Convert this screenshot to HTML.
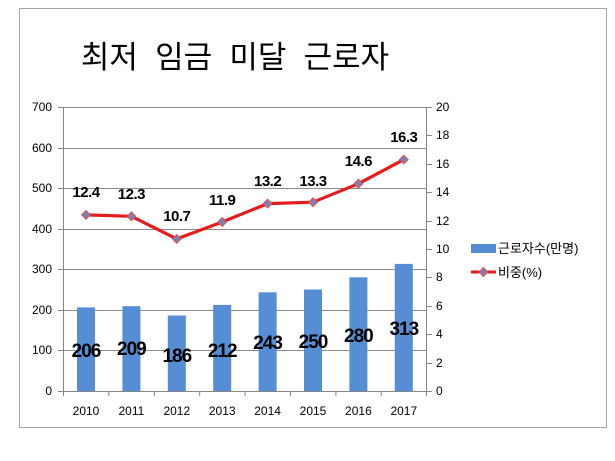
<!DOCTYPE html>
<html><head><meta charset="utf-8"><style>
html,body{margin:0;padding:0;background:#fff;}
svg text{font-family:"Liberation Sans","Noto Sans CJK KR",sans-serif;}
</style></head><body>
<svg width="615" height="456" viewBox="0 0 615 456" xmlns="http://www.w3.org/2000/svg">
<rect x="0" y="0" width="615" height="456" fill="#fff"/>
<rect x="19.5" y="8.5" width="587" height="419" fill="#fff" stroke="#a6a6a6" stroke-width="1"/>
<text x="235" y="68" font-size="31" text-anchor="middle" fill="#000" font-family="Noto Sans CJK KR,sans-serif" style="white-space:pre" xml:space="preserve">최저  임금  미달  근로자</text>
<g stroke="#8c8c8c" stroke-width="1">
<line x1="63.5" y1="107.5" x2="426.5" y2="107.5"/>
<line x1="63.5" y1="148.5" x2="426.5" y2="148.5"/>
<line x1="63.5" y1="188.5" x2="426.5" y2="188.5"/>
<line x1="63.5" y1="229.5" x2="426.5" y2="229.5"/>
<line x1="63.5" y1="269.5" x2="426.5" y2="269.5"/>
<line x1="63.5" y1="310.5" x2="426.5" y2="310.5"/>
<line x1="63.5" y1="350.5" x2="426.5" y2="350.5"/>
</g>
<g fill="#558ed5">
<rect x="77" y="307.4" width="18" height="83.6"/>
<rect x="122.4" y="306.2" width="18" height="84.8"/>
<rect x="167.8" y="315.5" width="18" height="75.5"/>
<rect x="213.2" y="304.9" width="18" height="86.1"/>
<rect x="258.6" y="292.3" width="18" height="98.7"/>
<rect x="304" y="289.5" width="18" height="101.5"/>
<rect x="349.4" y="277.3" width="18" height="113.7"/>
<rect x="394.8" y="263.9" width="18" height="127.1"/>
</g>
<g stroke="#868686" stroke-width="1">
<line x1="63.5" y1="107" x2="63.5" y2="391"/>
<line x1="426.5" y1="107" x2="426.5" y2="391"/>
<line x1="63" y1="391.5" x2="427" y2="391.5"/>
<line x1="58" y1="107.5" x2="63" y2="107.5"/><line x1="58" y1="148.5" x2="63" y2="148.5"/><line x1="58" y1="188.5" x2="63" y2="188.5"/><line x1="58" y1="229.5" x2="63" y2="229.5"/><line x1="58" y1="269.5" x2="63" y2="269.5"/><line x1="58" y1="310.5" x2="63" y2="310.5"/><line x1="58" y1="350.5" x2="63" y2="350.5"/><line x1="58" y1="391.5" x2="63" y2="391.5"/>
<line x1="427" y1="107.5" x2="432" y2="107.5"/><line x1="427" y1="135.5" x2="432" y2="135.5"/><line x1="427" y1="164.5" x2="432" y2="164.5"/><line x1="427" y1="192.5" x2="432" y2="192.5"/><line x1="427" y1="221.5" x2="432" y2="221.5"/><line x1="427" y1="249.5" x2="432" y2="249.5"/><line x1="427" y1="277.5" x2="432" y2="277.5"/><line x1="427" y1="306.5" x2="432" y2="306.5"/><line x1="427" y1="334.5" x2="432" y2="334.5"/><line x1="427" y1="363.5" x2="432" y2="363.5"/><line x1="427" y1="391.5" x2="432" y2="391.5"/>
<line x1="63.5" y1="391" x2="63.5" y2="396"/><line x1="108.9" y1="391" x2="108.9" y2="396"/><line x1="154.3" y1="391" x2="154.3" y2="396"/><line x1="199.7" y1="391" x2="199.7" y2="396"/><line x1="245.1" y1="391" x2="245.1" y2="396"/><line x1="290.5" y1="391" x2="290.5" y2="396"/><line x1="335.9" y1="391" x2="335.9" y2="396"/><line x1="381.3" y1="391" x2="381.3" y2="396"/><line x1="426.5" y1="391" x2="426.5" y2="396"/>
</g>
<g font-size="12" fill="#000" text-anchor="end">
<text x="52" y="111">700</text><text x="52" y="152">600</text><text x="52" y="192">500</text><text x="52" y="233">400</text><text x="52" y="273">300</text><text x="52" y="314">200</text><text x="52" y="354">100</text><text x="52" y="395">0</text>
</g>
<g font-size="12" fill="#000" text-anchor="start">
<text x="436" y="111">20</text><text x="436" y="139">18</text><text x="436" y="168">16</text><text x="436" y="196">14</text><text x="436" y="225">12</text><text x="436" y="253">10</text><text x="436" y="281">8</text><text x="436" y="310">6</text><text x="436" y="338">4</text><text x="436" y="367">2</text><text x="436" y="395">0</text>
</g>
<g font-size="12" fill="#000" text-anchor="middle">
<text x="86" y="415">2010</text><text x="131.4" y="415">2011</text><text x="176.8" y="415">2012</text><text x="222.2" y="415">2013</text><text x="267.6" y="415">2014</text><text x="313" y="415">2015</text><text x="358.4" y="415">2016</text><text x="403.8" y="415">2017</text>
</g>
<polyline points="86,214.9 131.4,216.3 176.8,238.9 222.2,222 267.6,203.6 313,202.2 358.4,183.7 403.8,159.6" fill="none" stroke="#e41c1c" stroke-width="3.2" stroke-linejoin="round"/>
<g fill="#7f7fb0" stroke="#e44" stroke-width="0.8">
<path d="M86 210.4l4.5 4.5-4.5 4.5-4.5-4.5z"/><path d="M131.4 211.8l4.5 4.5-4.5 4.5-4.5-4.5z"/><path d="M176.8 234.4l4.5 4.5-4.5 4.5-4.5-4.5z"/><path d="M222.2 217.5l4.5 4.5-4.5 4.5-4.5-4.5z"/><path d="M267.6 199.1l4.5 4.5-4.5 4.5-4.5-4.5z"/><path d="M313 197.7l4.5 4.5-4.5 4.5-4.5-4.5z"/><path d="M358.4 179.2l4.5 4.5-4.5 4.5-4.5-4.5z"/><path d="M403.8 155.1l4.5 4.5-4.5 4.5-4.5-4.5z"/>
</g>
<g font-size="15" font-weight="bold" fill="#000" text-anchor="middle" letter-spacing="-0.5">
<text x="86" y="197">12.4</text><text x="131.4" y="199">12.3</text><text x="176.8" y="221">10.7</text><text x="222.2" y="205">11.9</text><text x="267.6" y="186">13.2</text><text x="313" y="186">13.3</text><text x="358.4" y="166">14.6</text><text x="403.8" y="142">16.3</text>
</g>
<g font-size="19" font-weight="bold" fill="#000" text-anchor="middle" letter-spacing="-1">
<text x="86" y="357">206</text><text x="131.4" y="355">209</text><text x="176.8" y="362">186</text><text x="222.2" y="357">212</text><text x="267.6" y="349">243</text><text x="313" y="348">250</text><text x="358.4" y="342">280</text><text x="403.8" y="335">313</text>
</g>
<rect x="471" y="244" width="25" height="9" fill="#558ed5"/>
<text x="498" y="253" font-size="13" fill="#000">근로자수(만명)</text>
<line x1="471" y1="272" x2="496" y2="272" stroke="#e41c1c" stroke-width="3"/>
<path d="M483.5 267.5l4.5 4.5-4.5 4.5-4.5-4.5z" fill="#7f7fb0" stroke="#e44" stroke-width="0.8"/>
<text x="498" y="277" font-size="13" fill="#000">비중(%)</text>
</svg>
</body></html>
